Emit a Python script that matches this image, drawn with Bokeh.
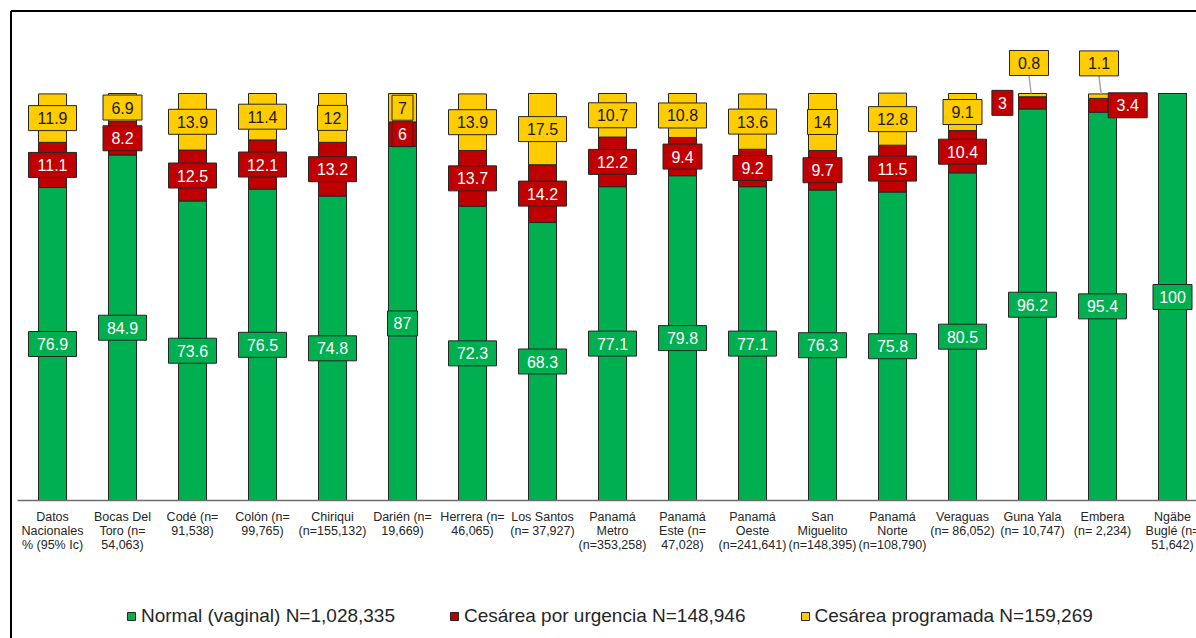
from bokeh.plotting import figure
from bokeh.models import Range1d, ColumnDataSource, Legend, LegendItem
from bokeh.core.properties import value
from bokeh.embed import file_html
from bokeh.resources import INLINE

# ---------------- data ----------------
categories = [
    "Datos\nNacionales\n% (95% Ic)",
    "Bocas Del\nToro (n=\n54,063)",
    "Codé (n=\n91,538)",
    "Colón (n=\n99,765)",
    "Chiriqui\n(n=155,132)",
    "Darién (n=\n19,669)",
    "Herrera (n=\n46,065)",
    "Los Santos\n(n= 37,927)",
    "Panamá\nMetro\n(n=353,258)",
    "Panamá\nEste (n=\n47,028)",
    "Panamá\nOeste\n(n=241,641)",
    "San\nMiguelito\n(n=148,395)",
    "Panamá\nNorte\n(n=108,790)",
    "Veraguas\n(n= 86,052)",
    "Guna Yala\n(n= 10,747)",
    "Embera\n(n= 2,234)",
    "Ngäbe\nBuglé (n=\n51,642)",
]
normal = [76.9, 84.9, 73.6, 76.5, 74.8, 87, 72.3, 68.3, 77.1, 79.8, 77.1, 76.3, 75.8, 80.5, 96.2, 95.4, 100]
urgencia = [11.1, 8.2, 12.5, 12.1, 13.2, 6, 13.7, 14.2, 12.2, 9.4, 9.2, 9.7, 11.5, 10.4, 3, 3.4, 0]
programada = [11.9, 6.9, 13.9, 11.4, 12, 7, 13.9, 17.5, 10.7, 10.8, 13.6, 14, 12.8, 9.1, 0.8, 1.1, 0]
series_names = ["Normal (vaginal) N=1,028,335",
                "Cesárea por urgencia N=148,946",
                "Cesárea programada N=159,269"]

# ---------------- style / layout ----------------
GREEN, RED, YELLOW = "#00B050", "#C00000", "#FFCC00"
EDGE = "#262626"
FONT = "Liberation Sans"
W, H = 1196, 638
PX_X = 70.0        # pixels per category
PX_Y = 4.07        # pixels per percentage point
X0 = -52 / PX_X
X1 = X0 + W / PX_X
Y1 = 500 / PX_Y
Y0 = Y1 - H / PX_Y
SMALL = 5          # segments below this get their label moved outside
RED_SIDE = {14: -0.43, 15: 0.36}

p = figure(width=W, height=H, x_range=Range1d(X0, X1), y_range=Range1d(Y0, Y1),
           output_backend="svg", toolbar_location=None,
           x_axis_type=None, y_axis_type=None,
           min_border_left=0, min_border_right=0, min_border_top=0, min_border_bottom=0,
           outline_line_color=None, background_fill_color="white", border_fill_color="white")

xs = list(range(len(categories)))
src = ColumnDataSource(dict(x=xs, normal=normal, urgencia=urgencia, programada=programada))
bars = p.vbar_stack(["normal", "urgencia", "programada"], x="x", width=0.4, source=src,
                    fill_color=[GREEN, RED, YELLOW], line_color=EDGE, line_width=1)

# axis line
p.segment(x0=[-0.5], y0=[0], x1=[len(categories) - 0.5], y1=[0], line_color="#6E6E6E", line_width=1.6)

# category labels
p.text(x=xs, y=[-9 / PX_Y] * len(xs), text=categories, text_align="center", text_baseline="top",
       text_font=value(FONT), text_font_size="12.5px", text_color=EDGE, text_line_height=1.0)

# data labels
lab = dict(x=[], y=[], t=[], fill=[], tc=[], w=[])
lead = dict(x0=[], y0=[], x1=[], y1=[])


def add(x, y, v, fill, tc):
    t = f"{v:g}"
    lab["x"].append(x); lab["y"].append(y); lab["t"].append(t)
    lab["fill"].append(fill); lab["tc"].append(tc); lab["w"].append(9 * len(t) + 12)


for i, (g, r, yv) in enumerate(zip(normal, urgencia, programada)):
    add(i, g / 2, g, GREEN, "white")
    if r > 0:
        if r >= SMALL:
            add(i, g + r / 2, r, RED, "white")
        else:
            add(i + RED_SIDE.get(i, 0.4), g + r / 2, r, RED, "white")
    if yv > 0:
        top = g + r + yv
        if yv >= SMALL:
            add(i, g + r + yv / 2, yv, YELLOW, "#1A1A1A")
        else:
            ly = top + 7.5
            add(i - 0.05, ly, yv, YELLOW, "#1A1A1A")
            lead["x0"].append(i - 0.05); lead["y0"].append(ly - 12.5 / PX_Y)
            lead["x1"].append(i - 0.02); lead["y1"].append(top)

p.segment(x0="x0", y0="y0", x1="x1", y1="y1", source=ColumnDataSource(lead),
          line_color="#A6A6A6", line_width=1.5)
lsrc = ColumnDataSource(lab)
p.rect(x="x", y="y", width="w", height=25, width_units="screen", height_units="screen",
       fill_color="fill", line_color=EDGE, line_width=1, source=lsrc)
p.text(x="x", y="y", text="t", text_color="tc", text_align="center", text_baseline="middle",
       text_font=value(FONT), text_font_size="16px", source=lsrc)

# chart-area border (left and top edges visible)
bx = X0 + 10.5 / PX_X
by = Y1 - 10.5 / PX_Y
p.segment(x0=[bx, bx], y0=[Y0, by], x1=[bx, X1], y1=[by, by], line_color="black", line_width=2)

legend = Legend(items=[LegendItem(label=n, renderers=[r]) for n, r in zip(series_names, bars)],
                orientation="horizontal", location=(126, 11),
                glyph_width=10, glyph_height=10, label_standoff=5, spacing=54,
                padding=0, margin=0, border_line_color=None, background_fill_alpha=0,
                label_text_font=FONT, label_text_font_size="19px", label_text_color=EDGE,
                label_height=20)
p.add_layout(legend)

open("out.html", "w").write(file_html(p, INLINE))
